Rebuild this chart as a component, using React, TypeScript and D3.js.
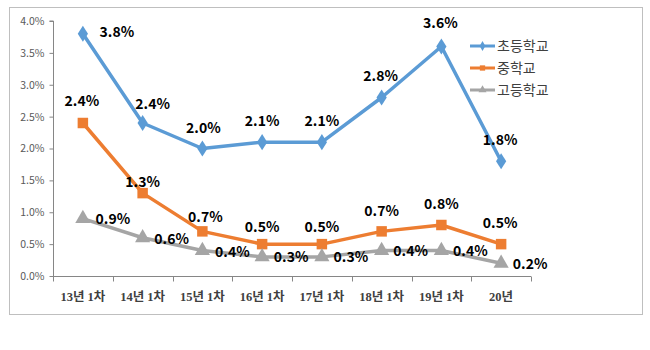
import { useEffect, useRef } from "react";
import * as d3 from "d3";

const categories = ["13년 1차", "14년 1차", "15년 1차", "16년 1차", "17년 1차", "18년 1차", "19년 1차", "20년"];
const seriesNames = ["초등학교", "중학교", "고등학교"];
const elementary = [3.8, 2.4, 2.0, 2.1, 2.1, 2.8, 3.6, 1.8];
const middle = [2.4, 1.3, 0.7, 0.5, 0.5, 0.7, 0.8, 0.5];
const high = [0.9, 0.6, 0.4, 0.3, 0.3, 0.4, 0.4, 0.2];
const yTicks = [0, 0.5, 1.0, 1.5, 2.0, 2.5, 3.0, 3.5, 4.0];

// label offsets (dx, dy) from the point, per series
const labelOffsets: [number, number][][] = [
  [[34, -2], [10, -19], [1, -21], [0, -21], [0, -21], [-1, -22], [-1, -24], [-1, -21]],
  [[-1, -22], [0, -11], [3, -14], [0, -17], [0, -17], [0, -20], [0, -21], [-1, -21]],
  [[30, 0], [29, 1], [30, 1], [29, 0], [29, 0], [29, 0], [29, 0], [29, 1]],
];

const colors = ["#5B9BD5", "#ED7D31", "#A5A5A5"];
const markers = [d3.symbolDiamond, d3.symbolSquare, d3.symbolTriangle];
const markerSizes = [75, 110, 100];

const App = () => {
  const ref = useRef<SVGSVGElement>(null);

  useEffect(() => {
    const el = ref.current;
    if (!el) return;
    const svg = d3.select(el);
    svg.selectAll("*").remove();

    const font = "'Noto Sans CJK KR', 'Malgun Gothic', sans-serif";
    const serifFont = "'Liberation Serif', 'Noto Sans CJK KR', serif";
    const series = [elementary, middle, high];

    // chart frame
    svg.append("rect")
      .attr("x", 9.5).attr("y", 7.5)
      .attr("width", 633).attr("height", 307)
      .attr("fill", "#fff")
      .attr("stroke", "#BFBFBF");

    const x = d3.scaleBand().domain(categories).range([53, 531]).padding(0);
    const y = d3.scaleLinear().domain([0, 4]).range([276, 21]);
    const cx = (c: string) => (x(c) as number) + x.bandwidth() / 2;

    // y axis
    const yG = svg.append("g")
      .attr("transform", "translate(53.5,0)")
      .call(d3.axisLeft(y).tickValues(yTicks).tickSize(4).tickFormat(d => `${(+d).toFixed(1)}%`));
    yG.select(".domain").attr("stroke", "#868686").attr("d", `M-4,${y(4)}H0V${y(0)}`);
    yG.selectAll("line").attr("stroke", "#868686");
    yG.selectAll("text")
      .attr("fill", "#595959")
      .style("font-size", "10.5px")
      .style("font-family", font)
      .attr("x", -9);

    // x axis
    const xG = svg.append("g").attr("transform", `translate(0,${y(0) + 0.5})`);
    xG.append("line")
      .attr("x1", 53).attr("x2", 531)
      .attr("stroke", "#868686");
    const bounds = categories.map(c => x(c) as number).concat([531]);
    xG.selectAll(".xt")
      .data(bounds)
      .enter()
      .append("line")
      .attr("x1", d => Math.round(d) + 0.5).attr("x2", d => Math.round(d) + 0.5)
      .attr("y1", 0).attr("y2", 5)
      .attr("stroke", "#868686");
    xG.selectAll(".xl")
      .data(categories)
      .enter()
      .append("text")
      .attr("x", d => cx(d))
      .attr("y", 24)
      .attr("text-anchor", "middle")
      .attr("fill", "#404040")
      .style("font-size", "12.5px")
      .style("font-weight", "700")
      .style("font-family", serifFont)
      .text(d => d);

    // lines + markers
    const line = d3.line<number>()
      .x((_, i) => cx(categories[i]))
      .y(d => y(d));

    series.forEach((vals, s) => {
      svg.append("path")
        .datum(vals)
        .attr("d", line)
        .attr("fill", "none")
        .attr("stroke", colors[s])
        .attr("stroke-width", 3.5)
        .attr("stroke-linejoin", "round");
      const sym = d3.symbol().type(markers[s]).size(markerSizes[s]);
      svg.selectAll(`.m${s}`)
        .data(vals)
        .enter()
        .append("path")
        .attr("d", sym)
        .attr("transform", (d, i) => `translate(${cx(categories[i])},${y(d)})${s === 0 ? " scale(1.1,1)" : ""}`)
        .attr("fill", colors[s]);
    });

    // data labels
    series.forEach((vals, s) => {
      svg.selectAll(`.l${s}`)
        .data(vals)
        .enter()
        .append("text")
        .attr("x", (_, i) => cx(categories[i]) + labelOffsets[s][i][0])
        .attr("y", (d, i) => y(d) + labelOffsets[s][i][1])
        .attr("dy", "0.36em")
        .attr("text-anchor", "middle")
        .attr("fill", "#000")
        .style("font-size", "14px")
        .style("font-weight", "700")
        .style("font-family", font)
        .text(d => `${d.toFixed(1)}%`);
    });

    // legend
    seriesNames.forEach((name, s) => {
      const ly = 46 + s * 22;
      const lg = svg.append("g");
      lg.append("line")
        .attr("x1", 470).attr("x2", 495)
        .attr("y1", ly).attr("y2", ly)
        .attr("stroke", colors[s])
        .attr("stroke-width", 3);
      lg.append("path")
        .attr("d", d3.symbol().type(markers[s]).size(28)())
        .attr("transform", `translate(482.5,${ly})`)
        .attr("fill", colors[s]);
      lg.append("text")
        .attr("x", 497)
        .attr("y", ly)
        .attr("dy", "0.36em")
        .attr("fill", "#404040")
        .style("font-size", "14px")
        .style("font-family", font)
        .text(name);
    });
  }, []);

  return (
    <svg
      ref={ref}
      width={650}
      height={350}
      style={{ position: "absolute", left: 0, top: 0, display: "block", background: "#fff" }}
    />
  );
};

export default App;
